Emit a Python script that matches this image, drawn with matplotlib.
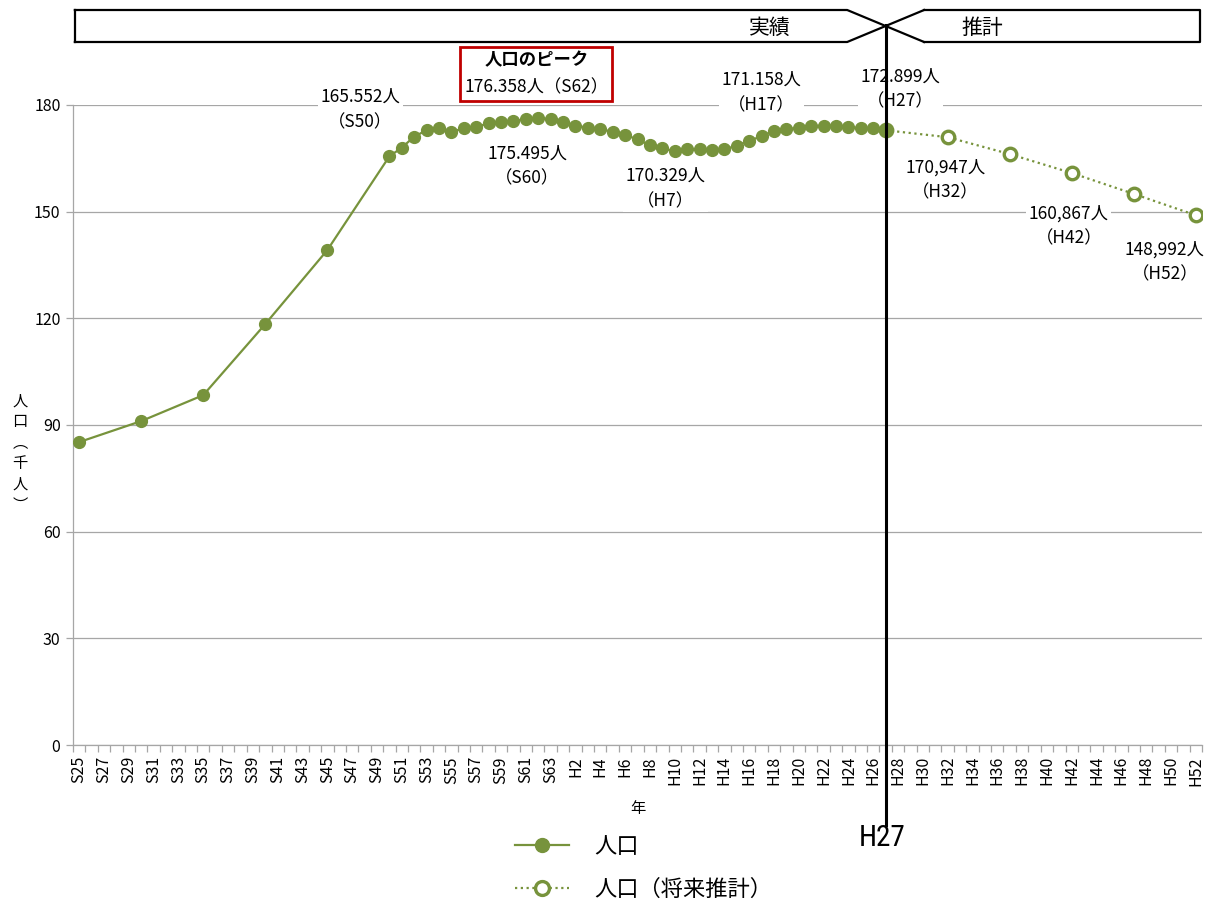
import matplotlib
matplotlib.use("Agg")
import matplotlib.pyplot as plt
from matplotlib.lines import Line2D
from matplotlib.transforms import blended_transform_factory
from matplotlib.offsetbox import TextArea, VPacker, AnnotationBbox

plt.rcParams['font.family'] = ['Noto Sans CJK JP', 'DejaVu Sans']

# ---- data -------------------------------------------------------------
first_year, last_year = 1950, 2040
actual_years = [1950, 1955, 1960, 1965, 1970] + list(range(1975, 2016))
actual_pop = [85.2, 91.1, 98.4, 118.4, 139.2,
              165.552, 168.0, 171.1, 172.9, 173.4, 172.5, 173.4, 173.9, 174.8, 175.2,
              175.495, 176.0, 176.358, 176.0, 175.3, 174.2, 173.6, 173.2, 172.5, 171.6,
              170.329, 168.7, 167.8, 167.0, 167.6, 167.6, 167.4, 167.6, 168.5, 170.0,
              171.158, 172.8, 173.3, 173.5, 174.1, 174.2, 174.2, 173.9, 173.4, 173.4,
              172.899]
proj_years = [2015, 2020, 2025, 2030, 2035, 2040]
proj_pop = [172.899, 170.947, 166.2, 160.867, 155.0, 148.992]
y_ticks = [0, 30, 60, 90, 120, 150, 180]


def era(year):
    return f"S{year - 1925}" if year <= 1988 else f"H{year - 1988}"


categories = [era(y) for y in range(first_year, last_year + 1)]
pos = {c: i for i, c in enumerate(categories)}

green = '#77933C'
grid_c = '#A6A6A6'

fig = plt.figure(figsize=(12.14, 9.06), dpi=100)
W, H = 1214, 906
ax = fig.add_axes([73 / W, 1 - 745 / H, (1202 - 73) / W, 640 / H])

ax_x = [pos[era(y)] for y in actual_years]
px_x = [pos[era(y)] for y in proj_years]

ax.plot(px_x, proj_pop, color=green, lw=1.6, ls=(0, (1, 1.6)), marker='o',
        ms=9, mfc='white', mec=green, mew=2.4, zorder=3)
ax.plot(ax_x, actual_pop, color=green, lw=1.6, marker='o', ms=8.5,
        mfc=green, mec=green, zorder=4)

ax.set_xlim(-0.5, len(categories) - 0.5)
ax.set_ylim(0, 180)
ax.set_yticks(y_ticks)
ax.set_yticklabels([str(v) for v in y_ticks], fontsize=11.5)
ax.yaxis.grid(True, color=grid_c, lw=0.9)
ax.set_axisbelow(True)

ax.set_xticks(range(0, len(categories), 2))
ax.set_xticklabels(categories[::2], rotation=90, fontsize=11.5)
ax.set_xticks([i - 0.5 for i in range(len(categories) + 1)], minor=True)
ax.tick_params(axis='x', which='major', length=0, pad=8)
ax.tick_params(axis='x', which='minor', length=5, color=grid_c, width=0.9)
ax.tick_params(axis='y', length=5, color=grid_c, width=0.9, pad=4)
for s in ('top', 'right'):
    ax.spines[s].set_visible(False)
for s in ('left', 'bottom'):
    ax.spines[s].set_color(grid_c)
    ax.spines[s].set_linewidth(0.9)

ax.set_xlabel('年', fontsize=11, labelpad=10)

fig.text(20 / W, 1 - 453 / H, '人\n口\n︵\n千\n人\n︶', fontsize=11,
         ha='center', va='center', linespacing=1.3)

# ---- value labels -----------------------------------------------------
value_by_cat = {era(y): v for y, v in zip(actual_years, actual_pop)}
value_by_cat.update({era(y): v for y, v in zip(proj_years, proj_pop)})

labels = [  # category, offset in pixels, thousands separator
    ('S50', (-29, 47), '.'),
    ('S60', (14, -45), '.'),
    ('H7', (28, -49), '.'),
    ('H17', (0, 44), '.'),
    ('H27', (15, 41), '.'),
    ('H32', (-2, -43), ','),
    ('H42', (-3, -53), ','),
    ('H52', (-31, -47), ','),
]
for cat, off, sep in labels:
    v = value_by_cat[cat]
    txt = f"{v:.3f}".replace('.', sep) + "人\n（" + cat + "）"
    ax.annotate(txt, (pos[cat], v), xytext=off, textcoords='offset pixels',
                ha='center', va='center', fontsize=12.5, linespacing=1.5,
                bbox=dict(boxstyle='square,pad=0.15', fc='white', ec='none'),
                zorder=5, annotation_clip=False)

# peak callout
peak_cat = 'S62'
peak_v = value_by_cat[peak_cat]
peak_box = VPacker(children=[
    TextArea("人口のピーク", textprops=dict(fontsize=12.5, fontweight='bold')),
    TextArea(f"{peak_v:.3f}人（{peak_cat}）", textprops=dict(fontsize=12.5)),
], align='center', pad=0, sep=7)
ax.add_artist(AnnotationBbox(
    peak_box, (pos[peak_cat], peak_v), xybox=(-2, 44), boxcoords='offset pixels',
    frameon=True, pad=0.35, annotation_clip=False, zorder=6,
    bboxprops=dict(boxstyle='square', fc='white', ec='#C00000', lw=2)))

# ---- boundary between recorded and projected --------------------------
split = pos['H27']
bt = blended_transform_factory(ax.transData, fig.transFigure)
fig.add_artist(Line2D([split, split], [1 - 25 / H, 1 - 825 / H], transform=bt,
                      color='black', lw=2.2))
fig.text(882 / W, 1 - 838 / H, 'H27', fontsize=21, ha='center', va='center',
         family=['Roboto Condensed', 'Liberation Sans Narrow', 'Noto Sans CJK JP'])

# banner with arrow
top, bot = 1 - 10 / H, 1 - 42 / H
xl, xr = -0.35, len(categories) - 0.65
d = 3.1
banner = [
    ([xl, split - d, split + d], [top, top, bot]),
    ([xl, split - d, split + d], [bot, bot, top]),
    ([split + d, xr, xr, split + d], [top, top, bot, bot]),
    ([xl, xl], [top, bot]),
]
for xs, ys in banner:
    fig.add_artist(Line2D(xs, ys, transform=bt, color='black', lw=1.6))
fig.text(770 / W, 1 - 28 / H, '実績', fontsize=15, ha='center', va='center')
fig.text(982 / W, 1 - 28 / H, '推計', fontsize=15, ha='center', va='center')

# ---- legend -----------------------------------------------------------
h1 = Line2D([], [], color=green, lw=1.6, marker='o', ms=10, mfc=green, mec=green)
h2 = Line2D([], [], color=green, lw=1.6, ls=(0, (1, 1.6)), marker='o', ms=10,
            mfc='white', mec=green, mew=2.4)
fig.legend([h1, h2], ['人口', '人口（将来推計）'], loc='upper left',
           bbox_to_anchor=(515 / W, 1 - 835 / H), frameon=False, fontsize=16,
           handlelength=2.45, handletextpad=1.1, labelspacing=0.9,
           borderpad=0, borderaxespad=0)

fig.savefig('out.png', dpi=100)
